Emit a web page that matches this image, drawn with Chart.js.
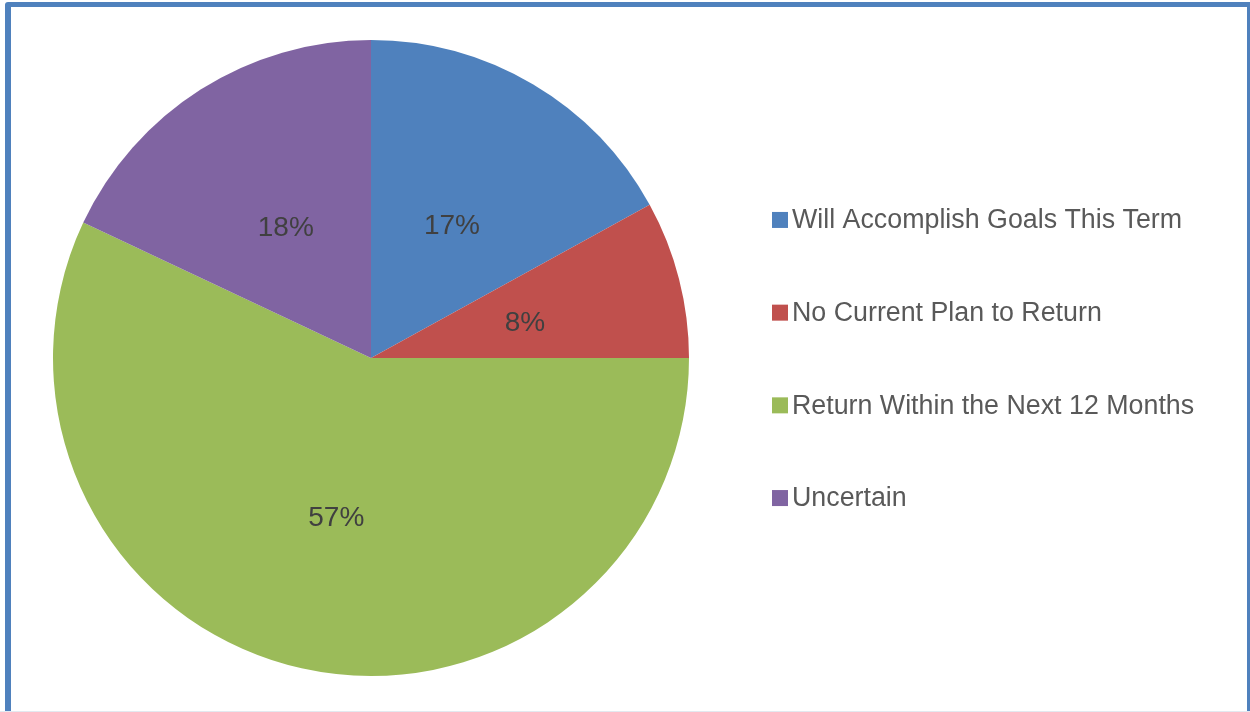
<!DOCTYPE html>
<html>
<head>
<meta charset="utf-8">
<script src="https://cdn.jsdelivr.net/npm/chart.js@4.4.1/dist/chart.umd.min.js"></script>
<style>
  html, body { margin: 0; padding: 0; background: #fff; overflow: hidden; }
  #wrap { position: relative; width: 1250px; height: 712px; overflow: hidden; }
  #frame {
    position: absolute; left: 5px; top: 2px; width: 1248px; height: 720px;
    border: 6px solid #4f81bd; border-top-width: 5px; border-radius: 3px;
    box-sizing: border-box; pointer-events: none;
  }
  #bottomLine { position: absolute; left: 0; top: 711px; width: 1250px; height: 1px; background: #e3e9f0; }
  canvas { position: absolute; left: 0; top: 0; }
</style>
</head>
<body>
<div id="wrap">
  <canvas id="pieChart" width="1250" height="712"></canvas>
  <div id="frame"></div>
  <div id="bottomLine"></div>
</div>
<script>
// Chart data
const categories = ['Will Accomplish Goals This Term', 'No Current Plan to Return', 'Return Within the Next 12 Months', 'Uncertain'];
const shares = [17, 8, 57, 18];
const sliceColors = ['#4f81bd', '#c0504d', '#9bbb59', '#8064a2'];

// Percent labels inside the slices
const sliceLabels = {
    id: 'sliceLabels',
    afterDatasetsDraw(chart) {
        const ctx = chart.ctx;
        const meta = chart.getDatasetMeta(0);
        ctx.save();
        ctx.font = '28px "Liberation Sans", Arial, sans-serif';
        ctx.fillStyle = '#404040';
        ctx.textAlign = 'center';
        ctx.textBaseline = 'middle';
        meta.data.forEach((arc, i) => {
            const p = arc.tooltipPosition();
            ctx.fillText(shares[i] + '%', p.x, p.y + 5);
        });
        ctx.restore();
    }
};

// Legend on the right, drawn close to the Excel look
const sideLegend = {
    id: 'sideLegend',
    afterDraw(chart) {
        const ctx = chart.ctx;
        const area = chart.chartArea;
        const midY = (area.top + area.bottom) / 2;
        const step = 92.7;
        ctx.save();
        ctx.font = '26.8px "Liberation Sans", Arial, sans-serif';
        ctx.textBaseline = 'middle';
        categories.forEach((name, i) => {
            const y = midY + (i - 1.5) * step;
            ctx.fillStyle = sliceColors[i];
            ctx.fillRect(772, y - 7, 16, 16);
            ctx.fillStyle = '#595959';
            ctx.fillText(name, 792, y + 2);
        });
        ctx.restore();
    }
};

const ctx = document.getElementById('pieChart').getContext('2d');
const pieChart = new Chart(ctx, {
    type: 'pie',
    data: {
        labels: categories,
        datasets: [{
            data: shares,
            backgroundColor: sliceColors,
            borderWidth: 0
        }]
    },
    options: {
        responsive: false,
        animation: false,
        layout: {
            padding: { left: 53, top: 40, right: 561, bottom: 36 }
        },
        plugins: {
            legend: { display: false },
            tooltip: { enabled: false }
        }
    },
    plugins: [sliceLabels, sideLegend]
});
</script>
</body>
</html>
